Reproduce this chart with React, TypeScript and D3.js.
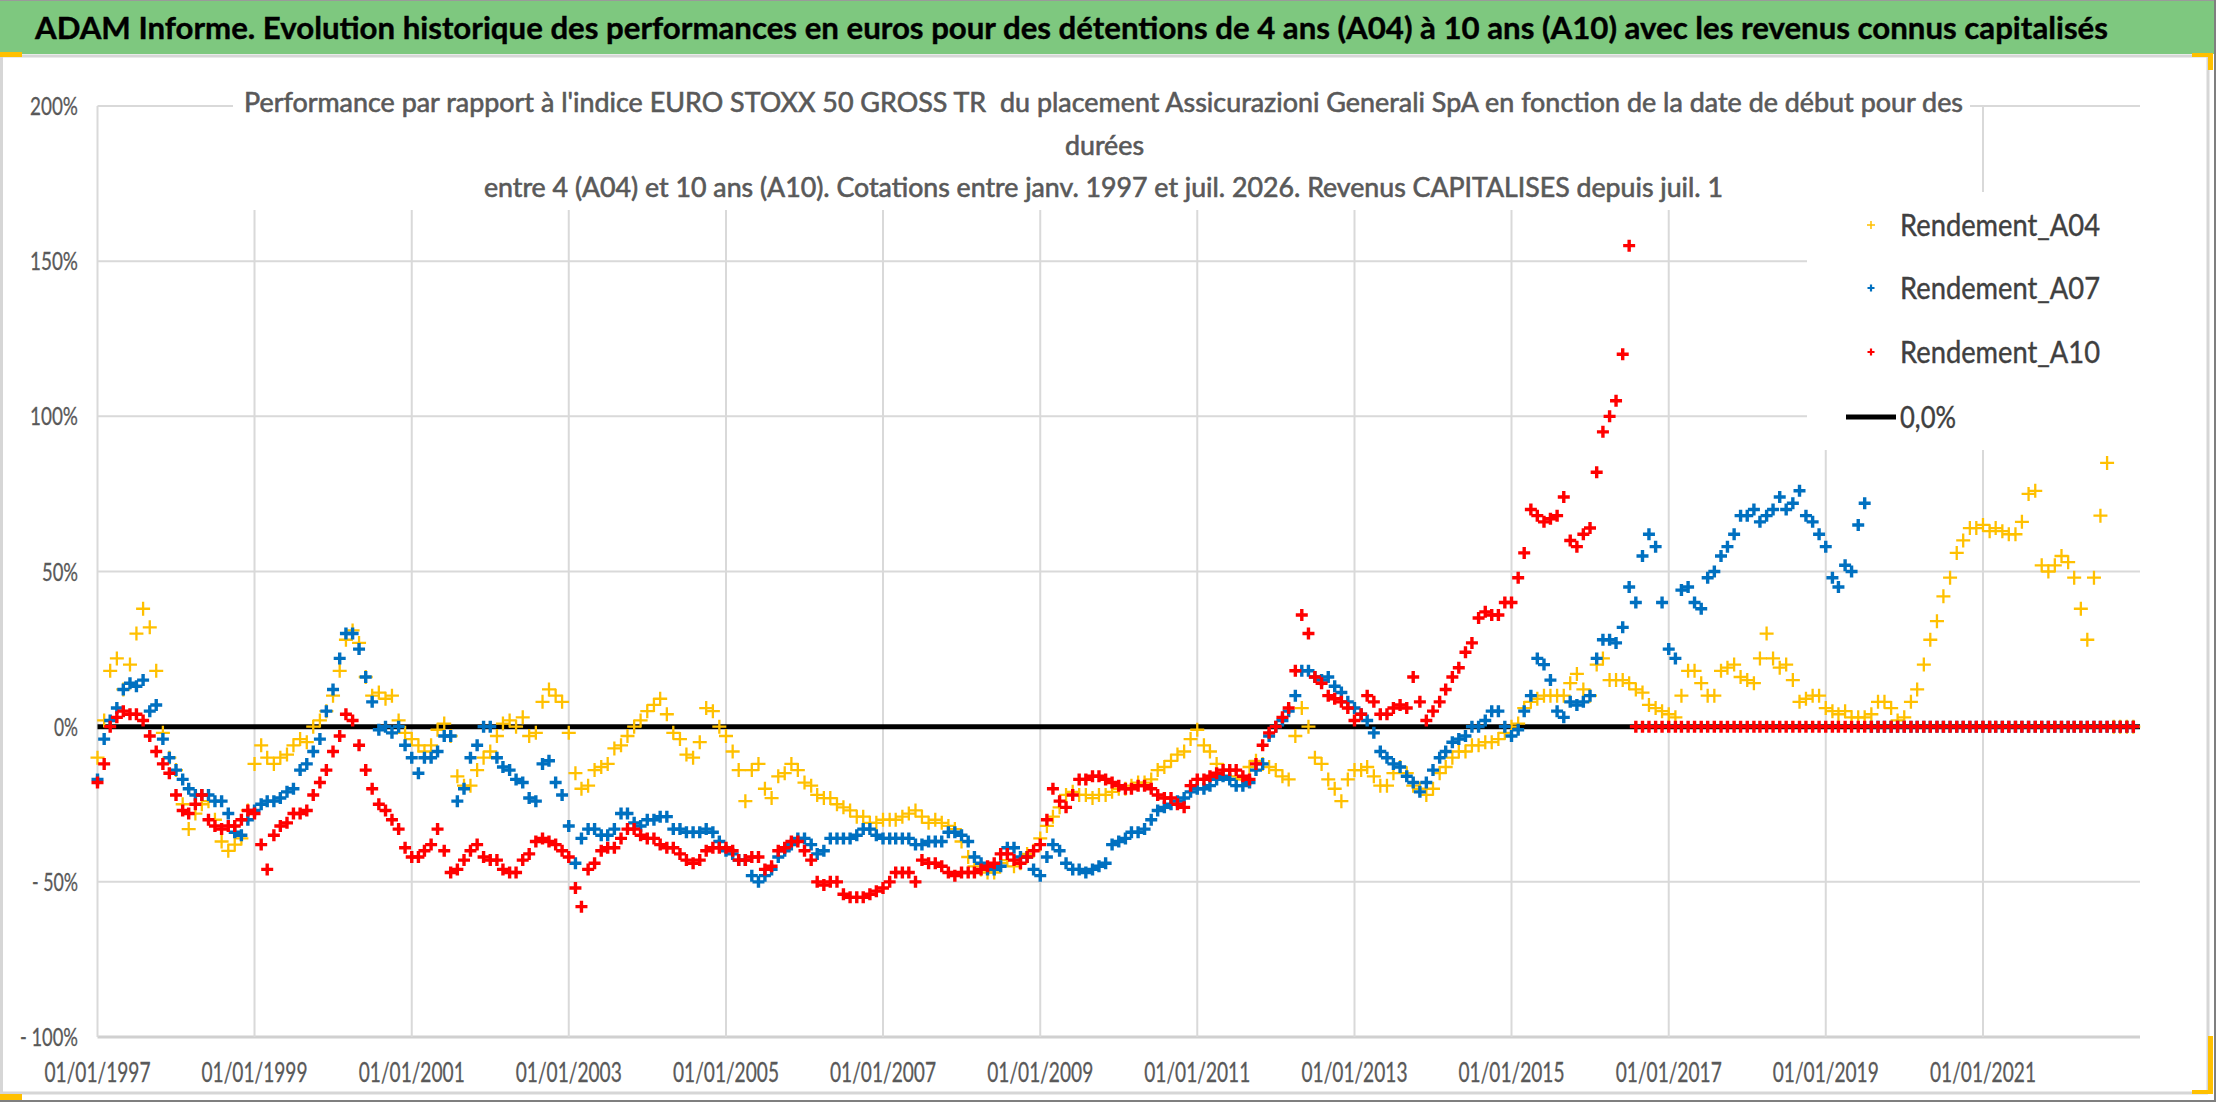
import React, { useEffect, useRef } from "react";
import * as d3 from "d3";

const WIDTH = 2216;
const HEIGHT = 1102;

const mainTitle =
  "ADAM Informe. Evolution historique des performances en euros pour des détentions de 4 ans (A04) à 10 ans (A10) avec les revenus connus capitalisés";
const subtitleLines = [
  "Performance par rapport à l'indice EURO STOXX 50 GROSS TR  du placement Assicurazioni Generali SpA en fonction de la date de début pour des",
  "durées",
  "entre 4 (A04) et 10 ans (A10). Cotations entre janv. 1997 et juil. 2026. Revenus CAPITALISES depuis juil. 1",
];

const yTickValues = [-100, -50, 0, 50, 100, 150, 200];
const yTickLabels = ["- 100%", "- 50%", "0%", "50%", "100%", "150%", "200%"];
const xTickLabels = [
  "01/01/1997", "01/01/1999", "01/01/2001", "01/01/2003", "01/01/2005", "01/01/2007", "01/01/2009",
  "01/01/2011", "01/01/2013", "01/01/2015", "01/01/2017", "01/01/2019", "01/01/2021",
];
const axisEnd = "01/01/2023";

const seriesNames = ["Rendement_A04", "Rendement_A07", "Rendement_A10"];
const zeroLabel = "0,0%";

// one value per month, the first one is janv. 1997 (in %)
const rendementA04 = [
  -10, 2, 18, 22, 12, 20, 30, 38, 32, 18, -2, -10,
  -14, -25, -33, -28, -25, -24, -30, -37, -40, -38, -36, -27,
  -12, -6, -10, -12, -10, -9, -6, -4, -5, 0, 2, 5,
  10, 18, 28, 31, 27, 16, 10, 11, 9, 10, 2, -2,
  -4, -6, -8, -6, -1, 1, -3, -16, -19, -19, -14, -10,
  -8, -3, 1, 2, 0, 3, -3, -2, 8, 12, 10, 8,
  -2, -15, -20, -19, -14, -13, -12, -7, -6, -3, 0, 2,
  5, 7, 9, 4, -2, -4, -9, -10, -5, 6, 5, 0,
  -3, -8, -14, -24, -14, -12, -20, -23, -16, -15, -12, -14,
  -18, -19, -22, -23, -23, -25, -26, -27, -29, -29, -31, -31,
  -30, -30, -30, -29, -28, -27, -29, -31, -30, -31, -32, -33,
  -37, -42, -45, -46, -47, -47, -44, -43, -45, -44, -41, -40,
  -36, -32, -29, -26, -22, -21, -22, -22, -23, -22, -22, -21,
  -20, -20, -19, -18, -18, -17, -14, -13, -11, -9, -8, -4,
  -1, -6, -8, -12, -14, -16, -17, -17, -13, -11, -12, -13,
  -14, -16, -17, -3, 6, 0, -10, -12, -17, -20, -24, -17,
  -14, -14, -13, -16, -19, -19, -15, -13, -15, -19, -20, -22,
  -20, -15, -13, -10, -8, -8, -6, -6, -5, -5, -4, -2,
  0, 1, 6, 8, 9, 10, 10, 10, 10, 14, 17, 12,
  10, 20, 22, 15, 15, 15, 14, 12, 11, 7, 6, 5,
  4, 3, 10, 18, 18, 14, 10, 10, 18, 19, 20, 16,
  15, 14, 22, 30, 22, 19, 20, 15, 8, 9, 10, 10,
  6, 5, 4, 5, 3, 3, 3, 4, 8, 8, 6, 2,
  3, 8, 12, 20, 28, 34, 42, 48, 56, 60, 64, 64,
  65, 63, 64, 63, 62, 62, 66, 75, 76, 52, 50, 52,
  55, 53, 48, 38, 28, 48, 68, 85, 0, 0, 0, 0,
];

const rendementA07 = [
  -17, -4, 2, 6, 12, 14, 13, 15, 5, 7, -4, -10,
  -14, -17, -20, -22, -22, -22, -24, -24, -28, -34, -35, -30,
  -27, -25, -24, -24, -23, -21, -20, -14, -12, -8, -4, 5,
  12, 22, 30, 30, 25, 16, 8, -1, 0, -2, 0, -6,
  -10, -15, -10, -10, -8, -3, -3, -24, -20, -10, -6, 0,
  0, -10, -13, -14, -17, -18, -23, -24, -12, -11, -18, -22,
  -32, -44, -36, -33, -33, -35, -35, -33, -28, -28, -31, -32,
  -30, -30, -29, -29, -33, -33, -34, -34, -34, -33, -34, -37,
  -40, -41, -43, -43, -48, -50, -48, -46, -42, -40, -38, -36,
  -36, -38, -41, -40, -36, -36, -36, -36, -35, -33, -33, -35,
  -36, -36, -36, -36, -36, -38, -38, -37, -37, -37, -34, -34,
  -35, -37, -42, -44, -46, -46, -45, -39, -39, -42, -42, -46,
  -48, -42, -38, -40, -44, -46, -46, -47, -46, -45, -44, -38,
  -37, -36, -34, -34, -33, -30, -27, -26, -25, -24, -23, -21,
  -20, -20, -19, -17, -16, -17, -19, -19, -18, -14, -12, -3,
  0, 2, 5, 10, 18, 18, 16, 15, 16, 13, 11, 8,
  6, 4, 2, -2, -8, -10, -12, -13, -16, -18, -21, -18,
  -14, -10, -8, -5, -4, -3, 0, 0, 2, 5, 5, 0,
  -3, -1, 5, 10, 22, 20, 15, 5, 3, 8, 7, 8,
  10, 22, 28, 28, 27, 32, 45, 40, 55, 62, 58, 40,
  25, 22, 44, 45, 40, 38, 48, 50, 55, 58, 62, 68,
  68, 70, 66, 68, 70, 74, 70, 72, 76, 68, 66, 62,
  58, 48, 45, 52, 50, 65, 72, 0, 0, 0, 0, 0,
  0, 0, 0, 0, 0, 0, 0, 0, 0, 0, 0, 0,
  0, 0, 0, 0, 0, 0, 0, 0, 0, 0, 0, 0,
  0, 0, 0, 0, 0, 0, 0, 0, 0, 0, 0, 0,
];

const rendementA10 = [
  -18, -12, 0, 3, 5, 4, 4, 2, -3, -8, -12, -15,
  -22, -27, -28, -25, -22, -30, -32, -33, -32, -32, -30, -27,
  -28, -38, -46, -35, -32, -31, -28, -28, -27, -22, -18, -14,
  -8, -3, 4, 2, -6, -14, -20, -25, -27, -30, -33, -39,
  -42, -42, -40, -38, -33, -40, -47, -46, -43, -40, -38, -42,
  -43, -43, -46, -47, -47, -43, -41, -37, -36, -37, -38, -40,
  -42, -52, -58, -46, -44, -40, -39, -39, -36, -33, -33, -35,
  -36, -36, -38, -39, -39, -41, -43, -44, -43, -40, -39, -39,
  -39, -40, -43, -43, -42, -42, -46, -45, -40, -39, -37, -37,
  -40, -43, -50, -51, -50, -50, -54, -55, -55, -55, -54, -53,
  -52, -50, -47, -47, -47, -50, -43, -44, -44, -45, -47, -48,
  -47, -47, -47, -46, -45, -44, -41, -41, -43, -44, -42, -40,
  -38, -30, -20, -24, -26, -22, -17, -17, -16, -16, -17, -18,
  -19, -20, -20, -19, -19, -20, -22, -23, -23, -25, -26, -19,
  -17, -17, -16, -15, -14, -14, -14, -16, -17, -12, -6, -2,
  0, 3, 6, 18, 36, 30, 16, 14, 10, 9, 8, 6,
  2, 4, 10, 8, 4, 4, 6, 7, 6, 16, 8, 2,
  5, 8, 12, 16, 19, 24, 27, 35, 37, 36, 36, 40,
  40, 48, 56, 70, 68, 66, 67, 68, 74, 60, 58, 62,
  64, 82, 95, 100, 105, 120, 155, 0, 0, 0, 0, 0,
  0, 0, 0, 0, 0, 0, 0, 0, 0, 0, 0, 0,
  0, 0, 0, 0, 0, 0, 0, 0, 0, 0, 0, 0,
  0, 0, 0, 0, 0, 0, 0, 0, 0, 0, 0, 0,
  0, 0, 0, 0, 0, 0, 0, 0, 0, 0, 0, 0,
  0, 0, 0, 0, 0, 0, 0, 0, 0, 0, 0, 0,
  0, 0, 0, 0, 0, 0, 0, 0, 0, 0, 0, 0,
];

const FONT = "Lato, 'Open Sans', 'Liberation Sans', sans-serif";
const parseDate = d3.timeParse("%d/%m/%Y");

// squeeze a text element to a target width (the original is a narrow font)
function fitWidth(sel: d3.Selection<SVGTextElement, any, any, any>, width: number) {
  sel.attr("textLength", width).attr("lengthAdjust", "spacingAndGlyphs");
}

// rough width of a percentage label in the narrow axis font
const labelWidth = (s: string) => s.split("").reduce((w, c) => w + (c === " " || c === "-" ? 5 : 12), 0);

const plusPath = (s: number) => `M${-s},0H${s}M0,${-s}V${s}`;

export default function App() {
  const svgRef = useRef<SVGSVGElement | null>(null);

  useEffect(() => {
    if (!svgRef.current) return;
    const svg = d3.select(svgRef.current);
    svg.selectAll("*").remove();

    const start = parseDate(xTickLabels[0]) as Date;
    const end = parseDate(axisEnd) as Date;
    const x = d3.scaleTime().domain([start, end]).range([97.5, 2140]);
    const y = d3.scaleLinear().domain([-100, 200]).range([1037, 106]);

    // page frame
    svg.append("rect").attr("width", WIDTH).attr("height", HEIGHT).attr("fill", "#fff");
    svg.append("rect").attr("x", 0).attr("y", 0).attr("width", 2214).attr("height", 54).attr("fill", "#7EC87F");
    svg.append("line").attr("x1", 0).attr("x2", 2216).attr("y1", 0.5).attr("y2", 0.5).attr("stroke", "#9a9a9a");
    svg.append("line").attr("x1", 0).attr("x2", 2208).attr("y1", 56).attr("y2", 56).attr("stroke", "#d6d6d6").attr("stroke-width", 3);
    svg.append("line").attr("x1", 1.5).attr("x2", 1.5).attr("y1", 56).attr("y2", 1093).attr("stroke", "#d6d6d6").attr("stroke-width", 3);
    svg.append("line").attr("x1", 2208).attr("x2", 2208).attr("y1", 56).attr("y2", 1093).attr("stroke", "#d6d6d6").attr("stroke-width", 3);
    svg.append("line").attr("x1", 0).attr("x2", 2208).attr("y1", 1093).attr("y2", 1093).attr("stroke", "#d6d6d6").attr("stroke-width", 3);
    svg.append("line").attr("x1", 2215).attr("x2", 2215).attr("y1", 0).attr("y2", HEIGHT).attr("stroke", "#7f7f7f").attr("stroke-width", 2);
    svg.append("line").attr("x1", 0).attr("x2", WIDTH).attr("y1", 1101).attr("y2", 1101).attr("stroke", "#7f7f7f").attr("stroke-width", 2);

    // selection handles
    const handles = svg.append("g").attr("fill", "#FFC000");
    handles.append("rect").attr("x", 0).attr("y", 52).attr("width", 22).attr("height", 5);
    handles.append("rect").attr("x", 2192).attr("y", 53).attr("width", 21).attr("height", 4);
    handles.append("rect").attr("x", 2208).attr("y", 53).attr("width", 5).attr("height", 17);
    handles.append("rect").attr("x", 2208).attr("y", 1036).attr("width", 5).attr("height", 58);
    handles.append("rect").attr("x", 2192).attr("y", 1090).attr("width", 21).attr("height", 4);
    handles.append("rect").attr("x", 0).attr("y", 1094).attr("width", 22).attr("height", 6);

    // main title
    svg
      .append("text")
      .attr("x", 35)
      .attr("y", 39)
      .attr("font-family", FONT)
      .attr("font-weight", "bold")
      .attr("font-size", 31)
      .attr("fill", "#000")
      .attr("stroke", "#000")
      .attr("stroke-width", 0.4)
      .text(mainTitle)
      .call(fitWidth, 2073);

    // grid
    const grid = svg.append("g");
    yTickValues.forEach((v) => {
      grid
        .append("line")
        .attr("x1", x(start))
        .attr("x2", x(end))
        .attr("y1", y(v))
        .attr("y2", y(v))
        .attr("stroke", v === -100 ? "#d0d0d0" : "#d9d9d9")
        .attr("stroke-width", v === -100 ? 3 : 2);
    });
    xTickLabels.forEach((lbl) => {
      const d = parseDate(lbl) as Date;
      grid
        .append("line")
        .attr("x1", x(d))
        .attr("x2", x(d))
        .attr("y1", y(200))
        .attr("y2", y(-100))
        .attr("stroke", "#d9d9d9")
        .attr("stroke-width", 2);
    });

    // axis labels
    svg
      .append("g")
      .selectAll("text")
      .data(yTickValues)
      .join("text")
      .attr("x", 78)
      .attr("y", (v) => y(v) + 9)
      .attr("text-anchor", "end")
      .attr("font-family", FONT)
      .attr("font-size", 25)
      .attr("fill", "#595959")
      .attr("stroke", "#595959")
      .attr("stroke-width", 0.3)
      .attr("lengthAdjust", "spacingAndGlyphs")
      .attr("textLength", (_, i) => labelWidth(yTickLabels[i]))
      .style("white-space", "pre")
      .text((_, i) => yTickLabels[i]);

    svg
      .append("g")
      .selectAll("text")
      .data(xTickLabels)
      .join("text")
      .attr("x", (d) => x(parseDate(d) as Date))
      .attr("y", 1082)
      .attr("text-anchor", "middle")
      .attr("font-family", FONT)
      .attr("font-size", 26)
      .attr("fill", "#595959")
      .attr("stroke", "#595959")
      .attr("stroke-width", 0.3)
      .attr("textLength", 106)
      .attr("lengthAdjust", "spacingAndGlyphs")
      .text((d) => d);

    // chart title box hides the grid behind it
    svg.append("rect").attr("x", 233).attr("y", 94).attr("width", 1737).attr("height", 116).attr("fill", "#fff");
    const subX = [244, 1065, 484];
    const subW = [1719, 79, 1239];
    const subY = [112, 155, 197];
    subtitleLines.forEach((line, i) => {
      svg
        .append("text")
        .attr("x", subX[i])
        .attr("y", subY[i])
        .attr("font-family", FONT)
        .attr("font-size", 26)
        .attr("fill", "#595959")
        .attr("stroke", "#595959")
        .attr("stroke-width", 0.6)
        .style("white-space", "pre")
        .text(line)
        .call(fitWidth, subW[i]);
    });

    // legend box
    svg.append("rect").attr("x", 1807).attr("y", 192).attr("width", 333).attr("height", 258).attr("fill", "#fff");

    // 0% reference line
    svg
      .append("line")
      .attr("x1", x(start))
      .attr("x2", x(end))
      .attr("y1", y(0))
      .attr("y2", y(0))
      .attr("stroke", "#000")
      .attr("stroke-width", 5);

    const series = [
      { name: seriesNames[0], values: rendementA04, color: "#FFC000", size: 7, width: 2.3, legendSize: 4, legendWidth: 1.5 },
      { name: seriesNames[1], values: rendementA07, color: "#0070C0", size: 6, width: 3.4, legendSize: 3.5, legendWidth: 2.2 },
      { name: seriesNames[2], values: rendementA10, color: "#FF0000", size: 6, width: 3.4, legendSize: 3.5, legendWidth: 2.2 },
    ];

    series.forEach((s) => {
      const pts = s.values.map((v, i) => ({ date: d3.timeMonth.offset(start, i), value: v }));
      svg
        .append("g")
        .selectAll("path")
        .data(pts)
        .join("path")
        .attr("transform", (d) => `translate(${x(d.date)},${y(d.value)})`)
        .attr("d", plusPath(s.size))
        .attr("fill", "none")
        .attr("stroke", s.color)
        .attr("stroke-width", s.width);
    });

    // legend
    const legend = svg.append("g");
    const legendY = [225, 288, 352];
    series.forEach((s, i) => {
      legend
        .append("path")
        .attr("transform", `translate(1871,${legendY[i]})`)
        .attr("d", plusPath(s.legendSize))
        .attr("fill", "none")
        .attr("stroke", s.color)
        .attr("stroke-width", s.legendWidth);
      legend
        .append("text")
        .attr("x", 1900)
        .attr("y", legendY[i] + 11)
        .attr("font-family", FONT)
        .attr("font-size", 31)
        .attr("fill", "#404040")
        .attr("stroke", "#404040")
        .attr("stroke-width", 0.4)
        .text(s.name)
        .call(fitWidth, 200);
    });
    legend.append("line").attr("x1", 1846).attr("x2", 1896).attr("y1", 417).attr("y2", 417).attr("stroke", "#000").attr("stroke-width", 5);
    legend
      .append("text")
      .attr("x", 1900)
      .attr("y", 428)
      .attr("font-family", FONT)
      .attr("font-size", 31)
      .attr("fill", "#404040")
      .attr("stroke", "#404040")
      .attr("stroke-width", 0.4)
      .text(zeroLabel)
      .call(fitWidth, 56);
  }, []);

  return (
    <>
      <style>{`body{margin:0}`}</style>
      <svg ref={svgRef} width={WIDTH} height={HEIGHT} style={{ display: "block" }} />
    </>
  );
}
